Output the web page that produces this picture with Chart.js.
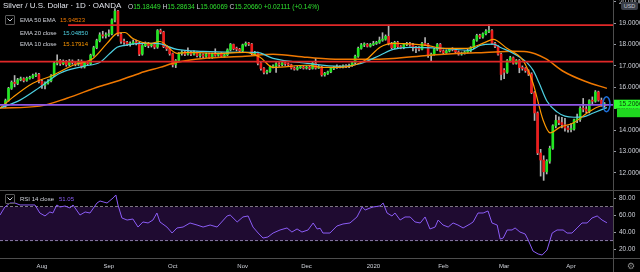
<!DOCTYPE html>
<html>
<head>
<meta charset="utf-8">
<script src="https://cdn.jsdelivr.net/npm/chart.js@4.4.1/dist/chart.umd.min.js"></script>
<style>
  html, body { margin: 0; padding: 0; background: #000; }
  #wrap { position: relative; width: 640px; height: 272px; overflow: hidden; background: #000;
          font-family: "Liberation Sans", Arial, sans-serif; }
  canvas { position: absolute; left: 0; }
  #price { top: 0; }
  #rsi { top: 190px; }
  .t { position: absolute; white-space: nowrap; line-height: 10px; }
  .hline { position: absolute; left: 0; width: 640px; height: 1px; background: #4d4d4d; }
  .vline { position: absolute; top: 0; left: 613px; width: 1px; height: 272px; background: #4d4d4d; }
  .chev { position: absolute; width: 8px; height: 8px; border: 1px solid #5a5a5a; border-radius: 1px; }
  .chev svg { position: absolute; left: 1px; top: 2px; }
  #usd { position: absolute; left: 621px; top: 2px; width: 17px; height: 8px; background: #3a3e48;
         border-radius: 2px; color: #c0c3cc; font-size: 5.5px; line-height: 8px; text-align: center; }
  #gear { position: absolute; left: 627px; top: 261px; color: #8a8a8a; font: 9px "DejaVu Sans"; line-height: 10px; }
</style>
</head>
<body>
<div id="wrap">
  <canvas id="price" width="640" height="190"></canvas>
  <canvas id="rsi" width="640" height="82"></canvas>
  <div class="hline" style="top:190px"></div>
  <div class="hline" style="top:258px"></div>
  <div class="vline"></div>

  <div class="t" style="left:3px;top:1px;font-size:8px;color:#e0e3eb">Silver / U.S. Dollar · 1D · OANDA</div>
  <div class="t" style="left:128px;top:2px;font-size:6.6px;color:#2fe02f">
    <span style="color:#d1d4dc">O</span>15.18449 <span style="color:#d1d4dc">H</span>15.28634 <span style="color:#d1d4dc">L</span>15.06069 <span style="color:#d1d4dc">C</span>15.20660 +0.02111 (+0.14%)
  </div>

  <div class="chev" style="left:5px;top:15px"><svg width="6" height="4"><path d="M0.5 0.5 L3 3 L5.5 0.5" stroke="#d1d4dc" fill="none" stroke-width="1"/></svg></div>
  <div class="t" style="left:20px;top:14.5px;font-size:6px;color:#d1d4dc">EMA 50 EMA</div>
  <div class="t" style="left:60px;top:14.5px;font-size:6px;color:#f57c00">15.94523</div>
  <div class="t" style="left:20px;top:27.5px;font-size:6px;color:#d1d4dc">EMA 20 close</div>
  <div class="t" style="left:63px;top:27.5px;font-size:6px;color:#4dd0e1">15.04850</div>
  <div class="t" style="left:20px;top:39px;font-size:6px;color:#d1d4dc">EMA 10 close</div>
  <div class="t" style="left:63px;top:39px;font-size:6px;color:#ff9800">15.17914</div>

  <div class="chev" style="left:5px;top:194px"><svg width="6" height="4"><path d="M0.5 0.5 L3 3 L5.5 0.5" stroke="#d1d4dc" fill="none" stroke-width="1"/></svg></div>
  <div class="t" style="left:20px;top:194px;font-size:6px;color:#d1d4dc">RSI 14 close</div>
  <div class="t" style="left:59px;top:194px;font-size:6px;color:#8b5cf6">51.05</div>

  <div id="usd">USD</div>
  <div id="gear">⚙</div>
</div>

<script>
// daily bars, index 0 = 16 Jul 2019 ... 197 = 16 Apr 2020
const opens = [
  15.15,15.38,15.95,16.23,16.18,16.35,16.40,16.32,16.42,16.45,
  16.55,16.60,16.28,16.10,16.20,16.30,16.55,17.12,17.25,17.10,
  17.20,17.05,17.22,17.15,17.08,17.22,16.95,17.15,17.10,17.50,
  17.85,18.18,18.45,18.40,18.45,18.50,19.15,19.56,18.48,18.15,
  18.10,18.00,18.05,18.12,18.05,17.55,17.95,18.05,17.95,18.00,
  17.88,18.65,18.58,17.90,17.80,17.57,17.05,17.25,17.58,17.65,
  17.55,17.62,17.55,17.62,17.48,17.52,17.45,17.55,17.40,17.55,
  17.50,17.55,17.45,17.52,17.75,18.00,17.80,17.78,17.70,17.98,
  18.05,18.02,17.58,17.62,17.12,16.88,16.70,16.75,16.95,17.00,
  17.10,17.05,17.15,17.10,17.05,16.90,16.85,16.92,16.95,16.90,
  16.95,16.88,17.12,16.90,16.95,16.58,16.65,16.72,16.88,16.92,
  16.98,16.95,17.00,16.98,17.02,17.15,17.45,17.82,17.98,18.00,
  17.92,18.00,18.05,18.10,18.20,18.25,18.38,18.05,17.85,18.10,
  17.90,17.85,18.00,18.05,17.98,17.88,17.82,17.78,18.05,18.00,
  17.48,17.55,17.78,18.00,17.70,17.62,17.70,17.78,17.75,17.65,
  17.55,17.60,17.65,17.70,17.85,18.20,18.42,18.35,18.50,18.62,
  18.65,18.05,17.92,17.55,16.80,16.70,17.25,17.38,17.12,17.25,
  16.92,16.88,16.78,16.62,15.75,14.80,12.93,12.60,12.05,12.55,
  13.15,14.20,14.45,14.35,14.25,14.10,14.02,14.05,14.48,14.50,
  15.02,14.98,14.88,15.38,15.35,15.78,15.40,15.18
];
const highs = [
  15.45,16.00,16.30,16.55,16.42,16.48,16.45,16.48,16.52,16.62,
  16.68,16.65,16.35,16.25,16.36,16.60,17.18,17.52,17.30,17.28,
  17.25,17.30,17.28,17.20,17.30,17.28,17.20,17.22,17.55,17.92,
  18.25,18.55,18.62,18.55,18.68,19.20,19.68,19.60,18.55,18.25,
  18.15,18.12,18.22,18.20,18.10,18.00,18.12,18.10,18.05,18.05,
  18.70,18.72,18.62,17.95,17.85,17.60,17.30,17.62,17.72,17.70,
  17.85,17.68,17.70,17.66,17.58,17.56,17.60,17.60,17.60,17.80,
  17.60,17.62,17.56,17.80,18.05,18.02,17.88,17.82,18.02,18.12,
  18.10,18.05,17.68,17.65,17.15,16.92,16.80,17.00,17.05,17.15,
  17.15,17.20,17.18,17.14,17.08,16.95,16.98,17.00,17.00,17.00,
  17.00,17.18,17.35,17.02,16.98,16.70,16.76,16.92,16.98,17.05,
  17.02,17.05,17.06,17.08,17.20,17.50,17.88,18.05,18.08,18.05,
  18.05,18.15,18.15,18.35,18.55,18.45,18.90,18.10,18.15,18.15,
  17.95,18.05,18.10,18.10,18.05,17.92,17.90,18.10,18.32,18.05,
  17.60,17.82,18.05,18.05,17.75,17.75,17.82,17.85,17.80,17.70,
  17.65,17.70,17.78,17.90,18.25,18.48,18.48,18.55,18.70,18.92,
  18.70,18.10,17.95,17.60,16.88,17.30,17.45,17.42,17.30,17.30,
  17.00,16.92,16.82,16.68,15.80,14.85,13.10,12.80,12.62,13.25,
  14.25,14.70,14.62,14.60,14.55,14.20,14.30,14.52,14.75,15.10,
  15.48,15.10,15.42,15.55,15.85,15.82,15.50,15.29
];
const lows = [
  15.05,15.35,15.90,16.02,16.12,16.30,16.25,16.28,16.38,16.42,
  16.50,16.20,15.95,15.92,16.15,16.25,16.50,17.05,17.02,17.05,
  16.98,17.00,17.08,17.00,17.02,16.90,16.90,17.02,17.05,17.45,
  17.80,18.12,18.30,18.30,18.38,18.45,19.05,18.40,18.05,18.00,
  17.95,17.92,18.00,17.98,17.48,17.50,17.90,17.85,17.88,17.80,
  17.82,18.50,17.85,17.72,17.50,16.95,16.92,17.20,17.50,17.48,
  17.50,17.48,17.50,17.42,17.40,17.38,17.40,17.35,17.35,17.45,
  17.45,17.40,17.40,17.48,17.70,17.75,17.70,17.65,17.65,17.92,
  17.95,17.52,17.50,17.05,16.80,16.62,16.62,16.70,16.90,16.70,
  16.98,17.00,17.02,16.98,16.85,16.80,16.80,16.88,16.85,16.85,
  16.82,16.85,16.85,16.88,16.52,16.52,16.60,16.68,16.82,16.88,
  16.90,16.90,16.92,16.92,16.98,17.10,17.40,17.78,17.90,17.88,
  17.88,17.95,18.00,18.05,18.15,18.20,17.98,17.80,17.80,17.85,
  17.80,17.80,17.95,17.92,17.70,17.62,17.70,17.75,17.95,17.40,
  17.25,17.50,17.72,17.65,17.55,17.58,17.65,17.70,17.60,17.50,
  17.50,17.55,17.60,17.65,17.80,18.15,18.28,18.30,18.45,18.55,
  18.00,17.85,17.50,16.35,16.40,16.65,17.18,17.08,17.08,16.68,
  16.80,16.70,16.55,15.70,14.45,12.85,11.85,11.65,11.95,12.45,
  13.10,14.10,14.25,14.10,13.95,13.90,13.92,14.00,14.35,14.40,
  14.85,14.80,14.80,15.20,15.30,15.35,15.12,15.06
];
const closes = [
  15.38,15.95,16.23,16.18,16.35,16.40,16.32,16.42,16.45,16.55,
  16.60,16.28,16.10,16.20,16.30,16.55,17.12,17.25,17.10,17.20,
  17.05,17.22,17.15,17.08,17.22,16.95,17.15,17.10,17.50,17.85,
  18.18,18.45,18.40,18.45,18.50,19.15,19.56,18.48,18.15,18.10,
  18.00,18.05,18.12,18.05,17.55,17.95,18.05,17.95,18.00,17.88,
  18.65,18.58,17.90,17.80,17.57,17.05,17.25,17.58,17.65,17.55,
  17.62,17.55,17.62,17.48,17.52,17.45,17.55,17.40,17.55,17.50,
  17.55,17.45,17.52,17.75,18.00,17.80,17.78,17.70,17.98,18.05,
  18.02,17.58,17.62,17.12,16.88,16.70,16.75,16.95,17.00,17.10,
  17.05,17.15,17.10,17.05,16.90,16.85,16.92,16.95,16.90,16.95,
  16.88,17.12,16.90,16.95,16.58,16.65,16.72,16.88,16.92,16.98,
  16.95,17.00,16.98,17.02,17.15,17.45,17.82,17.98,18.00,17.92,
  18.00,18.05,18.10,18.20,18.25,18.38,18.05,17.85,18.10,17.90,
  17.85,18.00,18.05,17.98,17.88,17.82,17.78,18.05,18.00,17.48,
  17.55,17.78,18.00,17.70,17.62,17.70,17.78,17.75,17.65,17.55,
  17.60,17.65,17.70,17.85,18.20,18.42,18.35,18.50,18.62,18.65,
  18.05,17.92,17.55,16.60,16.70,17.25,17.38,17.12,17.25,16.92,
  16.88,16.78,16.62,15.75,14.80,12.93,12.60,12.05,12.55,13.15,
  14.20,14.45,14.35,14.25,14.10,14.02,14.05,14.48,14.50,15.02,
  14.98,14.88,15.38,15.35,15.78,15.40,15.18,15.21
];

// moving averages (bar index, price)
const ema50X = [-1.8,11.3,20.2,31.1,37.7,44.2,50.8,56.4,65.0,78.8,88.0,99.2,110.0,118.3,127.5,138.6,149.5,157.7,166.9,171.5,177.5,183.4,190.6,197.8];
const ema50  = [15.03,15.12,15.49,16.05,16.33,16.66,16.93,17.17,17.35,17.45,17.54,17.40,17.31,17.31,17.35,17.49,17.59,17.63,17.68,17.66,17.35,16.75,16.28,15.95];
const ema20X = [-1.8,4.8,11.3,17.9,25.5,31.1,34.4,36.7,39.3,44.2,49.8,56.4,65.0,78.8,82.7,88.0,99.2,110.0,116.6,123.2,127.5,133.1,143.9,152.8,156.1,160.4,163.0,166.6,169.2,171.5,173.5,175.5,178.1,181.4,184.0,187.0,190.0,193.3,197.8];
const ema20  = [15.03,15.40,16.00,16.66,16.98,17.17,17.59,17.87,17.96,18.05,18.05,17.77,17.68,17.63,17.63,17.35,17.12,16.98,17.10,17.50,17.77,17.87,17.82,17.73,17.96,18.02,17.85,17.62,17.40,17.15,16.80,16.20,15.35,14.85,14.65,14.60,14.62,14.80,15.05];
const ema10X = [-1.8,2.5,9.0,15.6,22.2,28.8,33.4,36.7,39.3,41.9,47.5,50.8,56.4,59.7,70.6,78.8,83.7,88.0,99.2,104.4,110.0,118.3,123.2,127.5,138.6,143.9,151.8,157.7,160.4,164.9,170.2,173.5,176.8,179.1,182.4,186.7,191.3,194.6,197.8];
const ema10  = [15.03,15.54,16.19,16.56,17.03,17.35,18.05,18.52,18.56,18.28,18.05,18.14,17.59,17.63,17.59,17.63,17.40,16.93,17.03,16.93,16.93,17.26,17.87,18.05,17.96,17.82,17.82,18.10,18.24,17.82,17.26,16.19,14.47,13.87,14.14,14.33,14.80,15.07,15.18];

// drawn horizontal levels
const levelPrices = [18.91, 17.20, 15.18];
const levelStarts = [20.6, -1.8, -1.8];
const levelColors = ['#e02828', '#e02828', '#9157e8'];

// RSI 14
const rsiX = [-1.8,-0.2,1.5,3.1,4.8,8.1,9.7,11.3,13.0,14.6,15.6,16.9,17.9,19.6,21.2,22.2,24.5,26.2,27.8,30.1,31.1,33.4,35.4,36.3,37.0,38.3,40.0,41.9,43.6,45.2,46.9,48.5,49.8,50.8,53.1,54.8,56.4,58.4,60.7,63.0,65.0,67.3,69.6,72.9,73.9,76.2,78.1,79.8,81.4,83.1,84.7,86.3,88.0,90.3,92.6,94.2,95.9,97.5,99.5,101.2,102.5,103.5,104.4,106.7,109.0,111.0,113.3,115.6,117.3,118.3,119.9,120.9,123.2,124.2,125.5,127.1,128.1,129.8,131.4,133.1,134.7,136.4,138.0,139.6,141.3,142.3,143.9,145.6,147.2,148.8,150.5,152.8,153.8,155.4,157.1,158.7,160.0,161.7,162.7,163.7,165.0,166.6,167.6,169.2,170.9,171.9,173.5,175.2,176.5,178.1,179.8,181.4,183.4,184.7,186.3,188.0,189.6,191.3,192.9,194.6,196.2,197.8];
const rsi  = [60.2,69.7,74.4,74.4,72.1,72.1,72.1,62.6,59.1,63.8,62.6,72.1,69.7,70.9,68.5,72.1,60.2,63.8,62.6,74.4,76.8,74.4,80.4,83.9,72.1,56.7,54.3,55.5,46.0,52.0,50.8,54.3,62.6,52.0,46.0,38.9,44.9,46.0,50.8,48.4,46.0,48.4,46.0,59.1,60.2,52.0,57.9,59.1,46.0,38.9,33.0,34.2,38.9,42.5,44.9,40.1,43.7,40.1,42.5,50.8,43.7,44.5,38.9,38.9,47.2,49.6,50.8,57.9,69.7,66.2,68.5,69.7,70.9,74.4,62.6,59.1,62.6,54.3,57.9,57.9,52.0,50.8,57.9,43.7,46.0,54.3,48.4,46.0,50.8,48.4,44.9,49.6,52.0,62.6,62.6,65.0,50.8,48.4,31.8,33.0,42.5,42.5,44.9,40.1,37.8,30.7,17.6,14.1,12.9,18.8,38.9,42.5,42.5,38.9,38.9,44.9,50.8,50.8,56.7,59.1,54.3,51.05];
const rsiUpper = 70, rsiLower = 30;

const priceTicks = [12, 13, 14, 15, 16, 17, 18, 19, 20];
const rsiTicks = [20, 40, 60, 80];
const monthTicks = [12, 34, 55, 78, 99, 121, 144, 164, 186];
const monthLabels = ['Aug', 'Sep', 'Oct', 'Nov', 'Dec', '2020', 'Feb', 'Mar', 'Apr'];

const xMin = -1.8, xMax = 199.8;
const FONT = '"Liberation Sans", Arial, sans-serif';
const UP = '#22e622', DOWN = '#ee1c1c', WICK = '#b4b4b4';

const pts = (xs, ys) => xs.map((x, i) => ({ x: x, y: ys[i] }));

function rightAxis(min, max, ticks, fmt) {
    return {
        position: 'right', min: min, max: max,
        afterBuildTicks: s => { s.ticks = ticks.map(v => ({ value: v })); },
        afterFit: s => { s.width = 27; s.paddingTop = 0; s.paddingBottom = 0; },
        ticks: { color: '#d1d4dc', font: { size: 6.5, family: FONT }, padding: 3, callback: v => v.toFixed(fmt) },
        grid: { display: true, drawOnChartArea: false, drawTicks: true, tickLength: 3, color: '#9598a1' },
        border: { display: false }
    };
}

// ellipse marker on the last bar + price label on the axis
const lastBarMarks = {
    id: 'lastBarMarks',
    afterDraw(chart) {
        const { ctx, scales } = chart;
        const last = closes.length - 1;
        const x = scales.x.getPixelForValue(last);
        const y = scales.y.getPixelForValue(closes[last]);
        ctx.save();
        ctx.strokeStyle = '#1e6fd9';
        ctx.lineWidth = 1.5;
        ctx.beginPath();
        ctx.ellipse(x + 2, y, 3.5, 7.5, 0, 0, Math.PI * 2);
        ctx.stroke();
        ctx.fillStyle = '#2cff2c';
        ctx.fillRect(613, y - 4.5, 27, 9);
        ctx.fillStyle = '#1fd81f';
        ctx.fillRect(617, y + 4.5, 23, 8.5);
        ctx.fillStyle = '#0b3b0b';
        ctx.font = '6.5px ' + FONT;
        ctx.textBaseline = 'middle';
        ctx.fillText('15.20660', 619, y);
        ctx.restore();
    }
};

new Chart(document.getElementById('price'), {
    type: 'bar',
    data: {
        datasets: [
            {
                label: 'wicks', order: 6, grouped: false, barThickness: 1, minBarLength: 1,
                data: closes.map((c, i) => ({ x: i, y: [lows[i], highs[i]] })),
                backgroundColor: WICK, borderWidth: 0
            },
            {
                label: 'bodies', order: 5, grouped: false, barThickness: 2, minBarLength: 1,
                data: closes.map((c, i) => ({ x: i, y: [opens[i], c] })),
                backgroundColor: closes.map((c, i) => c >= opens[i] ? UP : DOWN), borderWidth: 0
            },
            { type: 'line', label: 'EMA 50', order: 4, data: pts(ema50X, ema50), borderColor: '#f07800', borderWidth: 1.5, pointRadius: 0, cubicInterpolationMode: 'monotone' },
            { type: 'line', label: 'EMA 20', order: 3, data: pts(ema20X, ema20), borderColor: '#4dd0e1', borderWidth: 1.2, pointRadius: 0, cubicInterpolationMode: 'monotone' },
            { type: 'line', label: 'EMA 10', order: 2, data: pts(ema10X, ema10), borderColor: '#ff9800', borderWidth: 1.2, pointRadius: 0, cubicInterpolationMode: 'monotone' },
            ...levelPrices.map((p, k) => ({
                type: 'line', label: 'level ' + k, order: 1,
                data: [{ x: levelStarts[k], y: p }, { x: xMax, y: p }],
                borderColor: levelColors[k], borderWidth: 1.8, pointRadius: 0
            }))
        ]
    },
    options: {
        responsive: false, animation: false, events: [],
        layout: { padding: 0 },
        plugins: { legend: { display: false }, tooltip: { enabled: false } },
        scales: {
            x: { type: 'linear', min: xMin, max: xMax, display: false, offset: false },
            y: rightAxis(11.2, 20.08, priceTicks, 5)
        }
    },
    plugins: [lastBarMarks]
});

new Chart(document.getElementById('rsi'), {
    type: 'line',
    data: {
        datasets: [
            { label: 'upper', order: 3, data: [{ x: xMin, y: rsiUpper }, { x: xMax, y: rsiUpper }], borderColor: '#cfcfcf', borderWidth: 1, borderDash: [3, 2], pointRadius: 0, fill: false },
            { label: 'lower', order: 2, data: [{ x: xMin, y: rsiLower }, { x: xMax, y: rsiLower }], borderColor: '#8a7aa8', borderWidth: 1, borderDash: [3, 2], pointRadius: 0, fill: '-1', backgroundColor: '#1f0b31' },
            { label: 'RSI', order: 1, data: pts(rsiX, rsi), borderColor: '#8b5cf6', borderWidth: 1, pointRadius: 0, tension: 0 }
        ]
    },
    options: {
        responsive: false, animation: false, events: [],
        layout: { padding: 0 },
        plugins: { legend: { display: false }, tooltip: { enabled: false } },
        scales: {
            x: {
                type: 'linear', min: xMin, max: xMax, offset: false,
                afterBuildTicks: s => { s.ticks = monthTicks.map(v => ({ value: v })); },
                afterFit: s => { s.height = 13; s.paddingLeft = 0; s.paddingRight = 0; },
                ticks: { color: '#d1d4dc', font: { size: 6, family: FONT }, padding: 4, maxRotation: 0, autoSkip: false,
                         callback: (v, i) => monthLabels[i] },
                grid: { display: false, drawTicks: false },
                border: { display: false }
            },
            y: rightAxis(8.2, 89.8, rsiTicks, 2)
        }
    }
});
</script>
</body>
</html>
